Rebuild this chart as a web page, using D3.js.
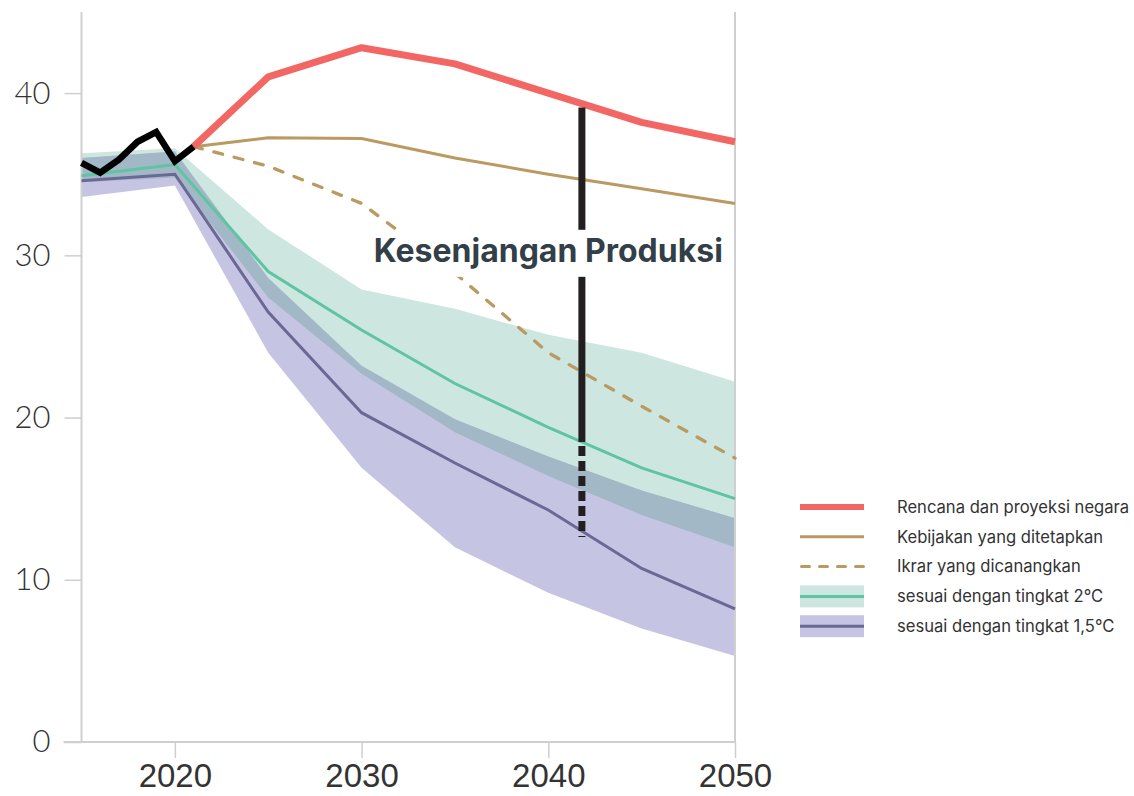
<!DOCTYPE html>
<html>
<head>
<meta charset="utf-8">
<script src="https://cdn.jsdelivr.net/npm/d3@7"></script>
<style>
  html, body { margin: 0; padding: 0; background: #fff; }
  svg { display: block; }
</style>
</head>
<body>
<svg id="chart" width="1134" height="796"></svg>
<script>
// Coal production pathways (EJ/yr), historical record and scenario projections
const histYears = [2015, 2016, 2017, 2018, 2019, 2020, 2021];
const histValues = [35.7, 35.1, 35.9, 37.0, 37.6, 35.8, 36.7];

const projYears = [2021, 2025, 2030, 2035, 2040, 2045, 2050];
const plansValues = [36.7, 41.0, 42.8, 41.8, 40.0, 38.2, 37.0];
const policyValues = [36.7, 37.25, 37.2, 36.0, 35.0, 34.1, 33.2];
const pledgeValues = [36.7, 35.5, 33.2, 28.9, 24.0, 20.7, 17.5];

const pathYears = [2015, 2020, 2025, 2030, 2035, 2040, 2045, 2050];
const twoMid = [34.9, 35.6, 29.0, 25.4, 22.1, 19.4, 16.9, 15.0];
const twoLow = [34.5, 34.8, 27.4, 22.7, 19.1, 16.4, 14.0, 12.0];
const twoHigh = [36.3, 36.6, 31.6, 27.9, 26.7, 25.1, 24.0, 22.2];
const oneFiveMid = [34.6, 35.0, 26.5, 20.3, 17.2, 14.3, 10.7, 8.2];
const oneFiveLow = [33.6, 34.3, 24.0, 16.9, 12.0, 9.2, 7.0, 5.3];
const oneFiveHigh = [36.0, 36.4, 28.6, 23.2, 19.9, 17.6, 15.5, 13.8];

const yTicks = [0, 10, 20, 30, 40];
const xTicks = [2020, 2030, 2040, 2050];

const gapYear = 2041.8;
const gapLabel = "Kesenjangan Produksi";
const gapLabelAt = [2040, 29.6];

const legendLabels = [
  "Rencana dan proyeksi negara",
  "Kebijakan yang ditetapkan",
  "Ikrar yang dicanangkan",
  "sesuai dengan tingkat 2°C",
  "sesuai dengan tingkat 1,5°C"
];

const C = {
  red: "#f26764",
  brown: "#bb9a62",
  green: "#5ec4a1",
  greenBand: "#cde6df",
  purple: "#6b6896",
  purpleBand: "#c5c5e3",
  overlap: "#a2b8c6",
  axis: "#cfcfcf",
  black: "#000",
  bar: "#231f20",
  title: "#333f48",
  text: "#333"
};

const svg = d3.select("#chart");
const x = d3.scaleLinear().domain([2015, 2050]).range([81.5, 735]);
const y = d3.scaleLinear().domain([0, 45]).range([742, 12]);

const zip = (xs, ys) => xs.map((d, i) => [d, ys[i]]);
const line = d3.line().x(d => x(d[0])).y(d => y(d[1]));

// bands
const band = (lo, hi) => pathYears.map((yr, i) => ({ yr, lo: lo[i], hi: hi[i] }));
const area = d3.area().x(d => x(d.yr)).y0(d => y(d.lo)).y1(d => y(d.hi));
svg.append("path").attr("d", area(band(twoLow, twoHigh))).attr("fill", C.greenBand);
svg.append("path").attr("d", area(band(oneFiveLow, oneFiveHigh))).attr("fill", C.purpleBand);
const overlap = pathYears.map((yr, i) => ({
  yr,
  lo: Math.max(twoLow[i], oneFiveLow[i]),
  hi: Math.min(twoHigh[i], oneFiveHigh[i])
}));
svg.append("path").attr("d", area(overlap)).attr("fill", C.overlap);

// axes frame
const axisG = svg.append("g");
axisG.append("line").attr("x1", x(2015)).attr("x2", x(2015)).attr("y1", y(45)).attr("y2", y(0))
  .attr("stroke", C.axis).attr("stroke-width", 2);
axisG.append("line").attr("x1", x(2050)).attr("x2", x(2050)).attr("y1", y(45)).attr("y2", y(0))
  .attr("stroke", C.axis).attr("stroke-width", 2);

const yAxis = svg.append("g").attr("transform", `translate(${x(2015)},0)`)
  .call(d3.axisLeft(y).tickValues(yTicks).tickSize(17).tickPadding(14).tickFormat(d3.format("d")));
yAxis.select(".domain").remove();
yAxis.selectAll(".tick line").attr("stroke", C.axis).attr("stroke-width", 1.5);
yAxis.selectAll(".tick text").attr("fill", C.text).style("font-family", "Lato, sans-serif")
  .style("font-weight", 300).style("font-size", "31px");

const xAxis = svg.append("g").attr("transform", `translate(0,${y(0)})`)
  .call(d3.axisBottom(x).tickValues(xTicks).tickSize(16).tickPadding(6).tickFormat(d3.format("d")));
xAxis.select(".domain").attr("d", `M${x(2015) - 18},0H${x(2050)}`).attr("stroke", C.axis).attr("stroke-width", 2);
xAxis.selectAll(".tick line").attr("stroke", C.axis).attr("stroke-width", 1.5);
xAxis.selectAll(".tick text").attr("fill", C.text)
  .style("font-family", "'Liberation Sans Narrow', 'Liberation Sans', sans-serif")
  .style("font-size", "33px");

// scenario lines
svg.append("path").attr("d", line(zip(pathYears, twoMid))).attr("fill", "none")
  .attr("stroke", C.green).attr("stroke-width", 3);
svg.append("path").attr("d", line(zip(pathYears, oneFiveMid))).attr("fill", "none")
  .attr("stroke", C.purple).attr("stroke-width", 3);
svg.append("path").attr("d", line(zip(projYears, policyValues))).attr("fill", "none")
  .attr("stroke", C.brown).attr("stroke-width", 3);
svg.append("path").attr("d", line(zip(projYears, pledgeValues))).attr("fill", "none")
  .attr("stroke", C.brown).attr("stroke-width", 3.3).attr("stroke-dasharray", "9,12")
  .attr("stroke-linecap", "round");
svg.append("path").attr("d", line(zip(projYears, plansValues))).attr("fill", "none")
  .attr("stroke", C.red).attr("stroke-width", 7).attr("stroke-linejoin", "round");
svg.append("path").attr("d", line(zip(histYears, histValues))).attr("fill", "none")
  .attr("stroke", C.black).attr("stroke-width", 6.5).attr("stroke-linejoin", "miter");

// production gap bar at gapYear: from plans down to the 2°C line (solid), then to 1.5°C (dashed)
const interp = (xs, ys, t) => {
  const i = d3.bisectRight(xs, t) - 1;
  const k = (t - xs[i]) / (xs[i + 1] - xs[i]);
  return ys[i] + k * (ys[i + 1] - ys[i]);
};
const gapTop = interp(projYears, plansValues, gapYear);
const gapMid = interp(pathYears, twoMid, gapYear);
const gapBottom = interp(pathYears, oneFiveMid, gapYear);
svg.append("line").attr("x1", x(gapYear)).attr("x2", x(gapYear))
  .attr("y1", y(gapTop) + 4).attr("y2", y(gapMid))
  .attr("stroke", C.bar).attr("stroke-width", 7);
svg.append("line").attr("x1", x(gapYear)).attr("x2", x(gapYear))
  .attr("y1", y(gapMid) + 4).attr("y2", y(gapBottom) + 6)
  .attr("stroke", C.bar).attr("stroke-width", 7).attr("stroke-dasharray", "10,5");

// gap label on a white plate
const lab = svg.append("g");
const labText = lab.append("text").attr("x", x(gapLabelAt[0])).attr("y", y(gapLabelAt[1]))
  .attr("text-anchor", "middle").attr("fill", C.title)
  .style("font-family", "Inter, sans-serif").style("font-weight", 700).style("font-size", "32px")
  .text(gapLabel);
const bb = labText.node().getBBox();
lab.insert("rect", "text").attr("x", bb.x - 6).attr("y", bb.y - 1)
  .attr("width", bb.width + 12).attr("height", bb.height + 8).attr("fill", "#fff");

// legend
const lg = svg.append("g").attr("transform", "translate(800,507)");
const rowH = 29.8;
const sw = 64;
lg.append("line").attr("x1", 0).attr("x2", sw).attr("y1", 0).attr("y2", 0)
  .attr("stroke", C.red).attr("stroke-width", 6);
lg.append("line").attr("x1", 0).attr("x2", sw).attr("y1", rowH).attr("y2", rowH)
  .attr("stroke", C.brown).attr("stroke-width", 3);
lg.append("line").attr("x1", 1.5).attr("x2", sw).attr("y1", rowH * 2).attr("y2", rowH * 2)
  .attr("stroke", C.brown).attr("stroke-width", 3).attr("stroke-dasharray", "8,10").attr("stroke-linecap", "round");
lg.append("rect").attr("x", 0).attr("y", rowH * 3 - 11).attr("width", sw).attr("height", 22).attr("fill", C.greenBand);
lg.append("line").attr("x1", 0).attr("x2", sw).attr("y1", rowH * 3).attr("y2", rowH * 3)
  .attr("stroke", C.green).attr("stroke-width", 3);
lg.append("rect").attr("x", 0).attr("y", rowH * 4 - 11).attr("width", sw).attr("height", 22).attr("fill", C.purpleBand);
lg.append("line").attr("x1", 0).attr("x2", sw).attr("y1", rowH * 4).attr("y2", rowH * 4)
  .attr("stroke", C.purple).attr("stroke-width", 3);
lg.selectAll("text.lab").data(legendLabels).join("text")
  .attr("class", "lab")
  .attr("x", 97).attr("y", (d, i) => i * rowH).attr("dy", "0.35em")
  .attr("fill", C.text).style("font-family", "Inter, sans-serif").style("font-size", "16.6px")
  .text(d => d);
</script>
</body>
</html>
